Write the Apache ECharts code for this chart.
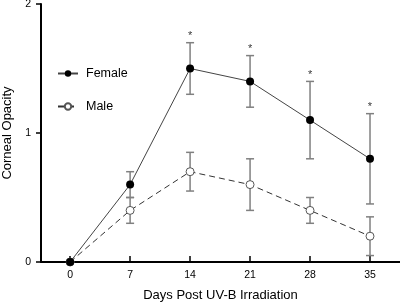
<!DOCTYPE html>
<html><head><meta charset="utf-8">
<script src="https://cdn.jsdelivr.net/npm/echarts@6/dist/echarts.min.js"></script>
<style>html,body{margin:0;padding:0;background:#fff}#c{width:400px;height:305px}</style>
</head><body><div id="c"></div>
<script>
const days = [0, 7, 14, 21, 28, 35];
const femaleMean = [0, 0.6, 1.5, 1.4, 1.1, 0.8];
const femaleErr = [0, 0.1, 0.2, 0.2, 0.3, 0.35];
const maleMean = [0, 0.4, 0.7, 0.6, 0.4, 0.2];
const maleErr = [0, 0.1, 0.15, 0.2, 0.1, 0.15];
const significant = [false, false, true, true, true, true];
const yTicks = [0, 1, 2];

const chart = echarts.init(document.getElementById('c'));
const font = 'Liberation Sans, Arial, sans-serif';

function errData(mean, err) {
  return days.map((d, i) => [d, mean[i] - err[i], mean[i] + err[i]]).filter(r => r[2] > r[1]);
}
function errRender(params, api) {
  const x = api.value(0);
  const lo = api.coord([x, api.value(1)]);
  const hi = api.coord([x, api.value(2)]);
  const w = 4;
  const st = { stroke: '#808080', lineWidth: 1.5 };
  return { type: 'group', children: [
    { type: 'line', shape: { x1: lo[0], y1: lo[1], x2: hi[0], y2: hi[1] }, style: st },
    { type: 'line', shape: { x1: lo[0] - w, y1: lo[1], x2: lo[0] + w, y2: lo[1] }, style: st },
    { type: 'line', shape: { x1: hi[0] - w, y1: hi[1], x2: hi[0] + w, y2: hi[1] }, style: st }
  ]};
}
const starData = days.map((d, i) => [d, femaleMean[i] + femaleErr[i]]).filter((r, i) => significant[i]);

chart.setOption({
  animation: false,
  grid: { left: 41, right: 0, top: 4, bottom: 43, outerBoundsMode: 'none', containLabel: false },
  legend: {
    orient: 'vertical', left: 57, top: 67, padding: 0, itemWidth: 20, itemHeight: 8, itemGap: 20,
    textStyle: { fontFamily: font, fontSize: 12.5, color: '#000', padding: [0, 0, 0, 3] },
    data: ['Female', 'Male']
  },
  xAxis: {
    type: 'value', min: -3.4, max: 38.5,
    name: 'Days Post UV-B Irradiation', nameLocation: 'middle', nameGap: 27,
    nameTextStyle: { fontFamily: font, fontSize: 13, color: '#000' },
    axisLine: { show: true, onZero: false, lineStyle: { color: '#000', width: 2 } },
    axisTick: { show: true, inside: true, length: 6, customValues: days, lineStyle: { color: '#000', width: 1.5 } },
    axisLabel: { customValues: days, fontFamily: font, fontSize: 10.5, color: '#000', margin: 8 },
    splitLine: { show: false }
  },
  yAxis: {
    type: 'value', min: 0, max: 2, interval: 1,
    name: 'Corneal Opacity', nameLocation: 'middle', nameGap: 27,
    nameTextStyle: { fontFamily: font, fontSize: 13, color: '#000' },
    axisLine: { show: true, onZero: false, lineStyle: { color: '#000', width: 2 } },
    axisTick: { show: true, length: 5, customValues: yTicks, lineStyle: { color: '#000', width: 1.5 } },
    axisLabel: { customValues: yTicks, fontFamily: font, fontSize: 10.5, color: '#000', margin: 10 },
    splitLine: { show: false }
  },
  series: [
    { type: 'custom', renderItem: errRender, data: errData(femaleMean, femaleErr), z: 1, silent: true },
    { type: 'custom', renderItem: errRender, data: errData(maleMean, maleErr), z: 1, silent: true },
    {
      name: 'Male', type: 'line', data: days.map((d, i) => [d, maleMean[i]]),
      symbol: 'circle', symbolSize: 8, z: 3,
      lineStyle: { color: '#333', width: 1, type: [6, 4] },
      itemStyle: { color: '#fff', borderColor: '#555', borderWidth: 1 }
    },
    {
      name: 'Female', type: 'line', data: days.map((d, i) => [d, femaleMean[i]]),
      symbol: 'circle', symbolSize: 8, z: 4,
      lineStyle: { color: '#444', width: 1 },
      itemStyle: { color: '#000', borderColor: '#000', borderWidth: 0 }
    },
    {
      type: 'scatter', data: starData, symbolSize: 0, silent: true,
      label: { show: true, position: 'top', distance: 1, formatter: '*', fontFamily: font, fontSize: 11, color: '#000' }
    }
  ]
});
</script></body></html>
